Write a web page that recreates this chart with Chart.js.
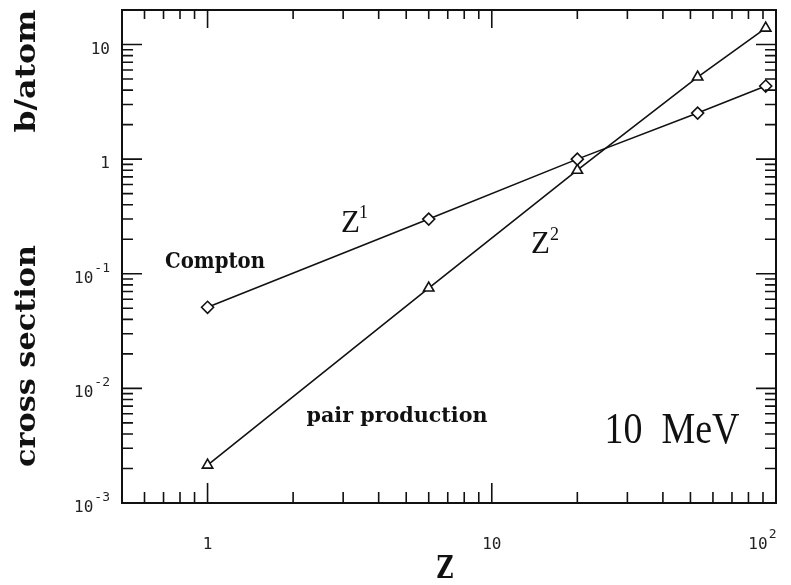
<!DOCTYPE html>
<html><head><meta charset="utf-8">
<script src="https://cdn.jsdelivr.net/npm/chart.js@4/dist/chart.umd.min.js"></script>
<style>html,body{margin:0;padding:0;background:#fff}#wrap{width:791px;height:585px;position:relative}</style>
</head><body><div id="wrap"><canvas id="c" width="791" height="585"></canvas></div>
<script>
// ---- data ----
const atomicNumbers = [1, 6, 20, 53, 92];
const comptonValues = [0.051, 0.30, 1.0, 2.52, 4.34];
const pairValues = [0.00214, 0.075, 0.80, 5.2, 13.9];
const xTickValues = [1, 10, 100];
const xTickBase = ['1', '10', '10'];
const xTickExp = ['', '', '2'];
const yTickValues = [0.001, 0.01, 0.1, 1, 10];
const yTickBase = ['10', '10', '10', '1', '10'];
const yTickExp = ['-3', '-2', '-1', '', ''];
const xRange = [0.5, 100];
const yRange = [0.001, 20];

const toPoints = (xs, ys) => xs.map((x, i) => ({ x: x, y: ys[i] }));

function fitText(ctx, text, x, baseline, width, font, rotate) {
  ctx.save();
  ctx.font = font;
  const mw = ctx.measureText(text).width;
  ctx.translate(x, baseline);
  if (rotate) ctx.rotate(-Math.PI / 2);
  ctx.scale(width / mw, 1);
  ctx.textAlign = 'center';
  ctx.textBaseline = 'alphabetic';
  ctx.fillText(text, 0, 0);
  ctx.restore();
}

const BASE_FONT = '16px "DejaVu Sans Mono"';
const EXP_FONT = '13px "DejaVu Sans Mono"';

// draws "base^exp" with its baseline at y; align: 'center' around cx or 'right' ending at cx
function drawPow(ctx, base, exp, cx, y, align) {
  ctx.font = BASE_FONT;
  const wb = ctx.measureText(base).width;
  ctx.font = EXP_FONT;
  const we = exp ? ctx.measureText(exp).width + 1 : 0;
  const total = wb + we;
  let x0 = align === 'right' ? cx - total : cx - wb / 2;
  ctx.textAlign = 'left';
  ctx.textBaseline = 'alphabetic';
  ctx.font = BASE_FONT;
  ctx.fillText(base, x0, y);
  if (exp) {
    ctx.font = EXP_FONT;
    ctx.fillText(exp, x0 + wb + 1, y - 11);
  }
}

const decorPlugin = {
  id: 'decor',
  afterDraw(chart) {
    const ctx = chart.ctx;
    const a = chart.chartArea;
    const xs = chart.scales.x, ys = chart.scales.y;
    ctx.save();
    ctx.strokeStyle = '#111';
    ctx.fillStyle = '#111';
    // frame
    ctx.lineWidth = 2;
    ctx.strokeRect(a.left, a.top, a.right - a.left, a.bottom - a.top);
    // inward ticks
    ctx.lineWidth = 1.6;
    ctx.beginPath();
    for (let d = 0.1; d <= 100; d *= 10) {
      for (let m = 1; m <= 9; m++) {
        const v = Math.round(m * d * 1000) / 1000;
        if (v > xRange[0] && v < xRange[1]) {
          const px = xs.getPixelForValue(v);
          const lb = m === 1 ? 20 : 11, lt = m === 1 ? 18 : 9;
          ctx.moveTo(px, a.bottom); ctx.lineTo(px, a.bottom - lb);
          ctx.moveTo(px, a.top); ctx.lineTo(px, a.top + lt);
        }
      }
    }
    for (let d = 0.001; d <= 10; d *= 10) {
      for (let m = 1; m <= 9; m++) {
        const v = m * d;
        if (v > yRange[0] * 1.0001 && v < yRange[1]) {
          const py = ys.getPixelForValue(v);
          const l = m === 1 ? 20 : 11;
          ctx.moveTo(a.left, py); ctx.lineTo(a.left + l, py);
          ctx.moveTo(a.right, py); ctx.lineTo(a.right - l, py);
        }
      }
    }
    ctx.stroke();
    // tick labels from the scales' ticks
    ctx.fillStyle = '#222';
    xs.ticks.forEach(t => {
      const i = xTickValues.indexOf(t.value);
      if (i < 0) return;
      const px = xs.getPixelForValue(t.value);
      const cx = i === xTickValues.length - 1 ? px - 18 : px;
      drawPow(ctx, xTickBase[i], xTickExp[i], cx, a.bottom + 46, 'center');
    });
    ys.ticks.forEach(t => {
      const i = yTickValues.findIndex(v => Math.abs(v - t.value) / v < 1e-6);
      if (i < 0) return;
      const py = ys.getPixelForValue(t.value);
      drawPow(ctx, yTickBase[i], yTickExp[i], a.left - 12, py + 9, 'right');
    });
    ctx.fillStyle = '#111';
    // annotations
    fitText(ctx, 'Compton', 215, 268, 100, 'bold 22px "DejaVu Serif"');
    fitText(ctx, 'pair production', 397, 422, 181, 'bold 21px "DejaVu Serif"');
    fitText(ctx, '10  MeV', 672, 443, 135, '45px "Liberation Serif"');
    // Z^1 and Z^2
    ctx.font = '31px "Liberation Serif"';
    ctx.textAlign = 'left'; ctx.textBaseline = 'alphabetic';
    ctx.fillText('Z', 341, 232);
    ctx.fillText('Z', 531, 253);
    ctx.font = '18px "Liberation Serif"';
    ctx.fillText('1', 359, 218);
    ctx.fillText('2', 550, 240);
    // axis titles
    fitText(ctx, 'Z', 445, 578, 17, 'bold 31px "DejaVu Serif"');
    fitText(ctx, 'cross section', 35, 356, 222, 'bold 28px "DejaVu Serif"', true);
    fitText(ctx, 'b/atom', 35, 71, 123, 'bold 28px "DejaVu Serif"', true);
    ctx.restore();
  }
};

new Chart(document.getElementById('c'), {
  type: 'scatter',
  data: {
    datasets: [
      {
        label: 'Compton',
        data: toPoints(atomicNumbers, comptonValues),
        showLine: true,
        borderColor: '#111',
        borderWidth: 1.6,
        pointStyle: 'rectRot',
        pointRadius: 6,
        pointBackgroundColor: '#fff',
        pointBorderColor: '#111',
        pointBorderWidth: 1.6
      },
      {
        label: 'pair production',
        data: toPoints(atomicNumbers, pairValues),
        showLine: true,
        borderColor: '#111',
        borderWidth: 1.6,
        pointStyle: 'triangle',
        pointRadius: 6,
        pointBackgroundColor: '#fff',
        pointBorderColor: '#111',
        pointBorderWidth: 1.6
      }
    ]
  },
  options: {
    responsive: false,
    animation: false,
    layout: { padding: { left: 0, right: 15, top: 10, bottom: 0 } },
    plugins: { legend: { display: false }, tooltip: { enabled: false } },
    scales: {
      x: {
        type: 'logarithmic',
        min: xRange[0], max: xRange[1],
        afterBuildTicks: s => { s.ticks = xTickValues.map(v => ({ value: v })); },
        afterFit: s => { s.height = 82; s.paddingLeft = 0; s.paddingRight = 0; },
        grid: { display: false, drawTicks: false },
        border: { display: false },
        ticks: { display: false }
      },
      y: {
        type: 'logarithmic',
        min: yRange[0], max: yRange[1],
        afterBuildTicks: s => { s.ticks = yTickValues.map(v => ({ value: v })); },
        afterFit: s => { s.width = 122; s.paddingTop = 0; s.paddingBottom = 0; },
        grid: { display: false, drawTicks: false },
        border: { display: false },
        ticks: { display: false }
      }
    }
  },
  plugins: [decorPlugin]
});
</script>
</body></html>
